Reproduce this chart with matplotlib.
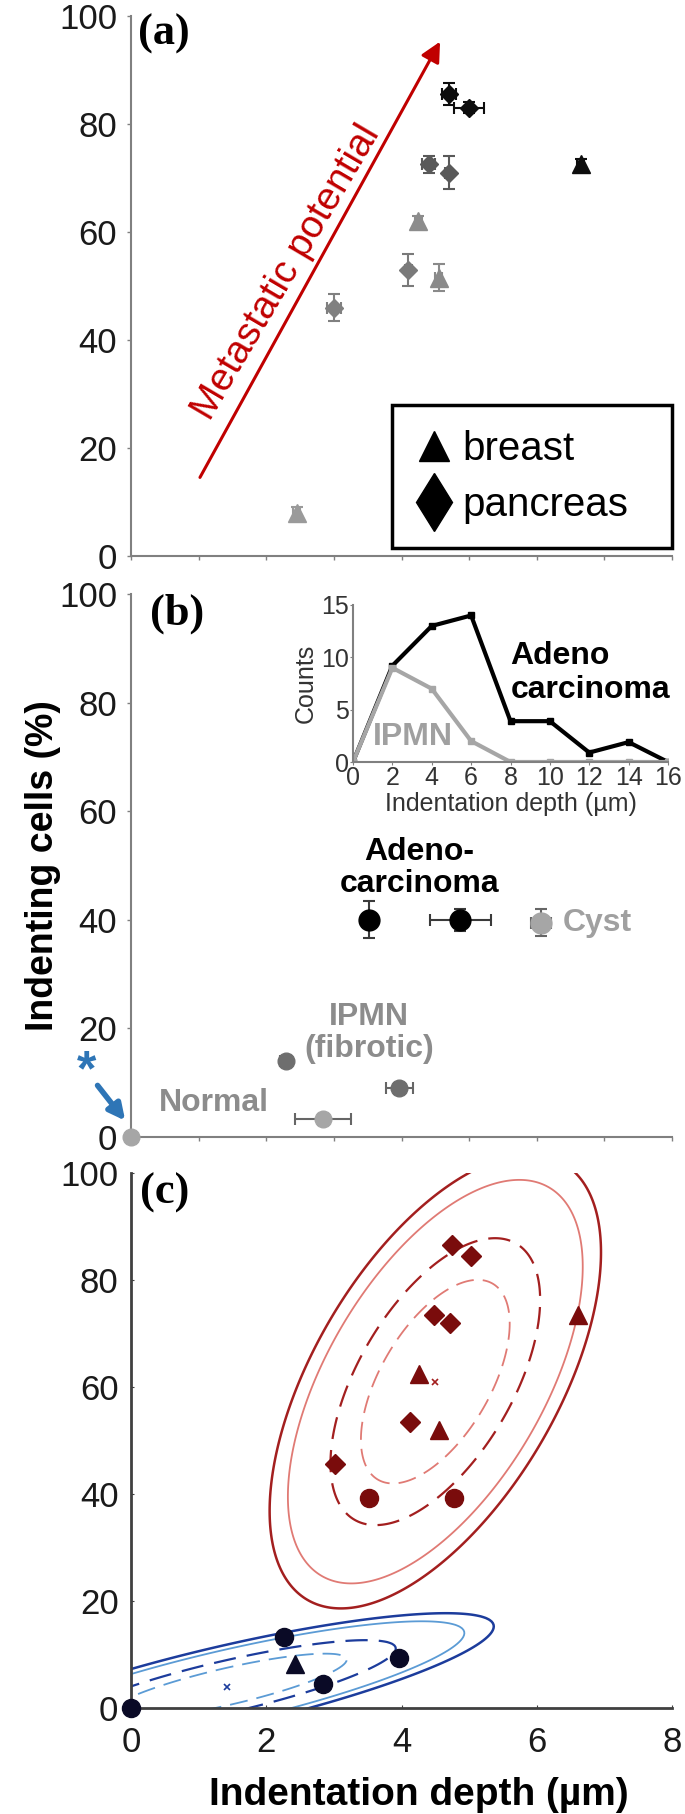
import matplotlib
matplotlib.use('Agg')
import matplotlib.pyplot as plt
import numpy as np
from matplotlib.lines import Line2D

plt.rcParams['font.family'] = ['Liberation Sans', 'DejaVu Sans']

# ---------- (a) cell lines ----------
a_x = [2.45, 3.0, 4.1, 4.25, 4.55, 4.4, 4.7, 4.7, 5.0, 6.65]
a_y = [8, 46, 53, 62, 51.5, 72.5, 71, 85.5, 83, 72.5]
a_xerr = [0.05, 0.1, 0.05, 0.05, 0.05, 0.1, 0.05, 0.1, 0.22, 0.05]
a_yerr = [1.0, 2.5, 3.0, 1.0, 2.5, 1.5, 3.0, 2.0, 1.0, 1.0]
a_marker = ['^', 'D', 'D', '^', '^', 'D', 'D', 'D', 'D', '^']
a_color = ['#9a9a9a', '#808080', '#7a7a7a', '#8c8c8c', '#8a8a8a',
           '#595959', '#595959', '#0d0d0d', '#0d0d0d', '#0d0d0d']

# ---------- (b) clinical samples ----------
b_x = [3.52, 4.87, 6.06, 2.29, 3.97, 2.84, 0.0]
b_y = [40, 40, 39.5, 14, 9, 3.3, 0]
b_xerr = [0.0, 0.45, 0.15, 0.08, 0.2, 0.41, 0.0]
b_yerr = [3.4, 2.0, 2.5, 0.8, 1.0, 1.0, 0.0]
b_color = ['#000000', '#000000', '#a6a6a6', '#6e6e6e', '#6e6e6e', '#a6a6a6', '#a6a6a6']

# inset histogram
hist_depth = [0, 2, 4, 6, 8, 10, 12, 14, 16]
hist_adeno = [0, 9.2, 13, 14, 3.9, 3.9, 0.9, 1.9, 0]
hist_ipmn = [0, 9, 7, 2, 0, 0, 0, 0, 0]

# ---------- (c) clusters ----------
c_red_x = [4.74, 5.03, 4.48, 4.71, 4.13, 3.01, 4.26, 4.55, 6.61, 3.52, 4.77]
c_red_y = [86.5, 84.4, 73.4, 71.9, 53.4, 45.7, 62.5, 52, 73.5, 39.3, 39.3]
c_red_marker = ['D'] * 6 + ['^'] * 3 + ['o'] * 2
c_blue_x = [2.26, 2.84, 3.97, 0.0, 2.42]
c_blue_y = [13.3, 4.4, 9.4, 0.0, 8.2]
c_blue_marker = ['o', 'o', 'o', 'o', '^']

# gaussian fits: mean, sd, correlation; contour radii (mahalanobis)
red_mean, red_sd, red_rho = (4.5, 61.0), (1.0, 17.3), 0.57
blue_mean, blue_sd, blue_rho = (1.42, 4.0), (1.61, 5.6), 0.82
levels = [1.1, 1.55, 2.18, 2.45]

W, H = 685, 1814
fig = plt.figure(figsize=(W / 100, H / 100), dpi=100)


def box(l, t, r, b):
    return [l / W, 1 - b / H, (r - l) / W, (b - t) / H]


ax_a = fig.add_axes(box(131, 16, 672, 556))
ax_b = fig.add_axes(box(131, 594, 672, 1137))
ax_c = fig.add_axes(box(131, 1173, 672, 1708))
ax_in = fig.add_axes(box(353, 605, 668, 762))

for ax in (ax_a, ax_b, ax_c):
    ax.set_xlim(0, 8)
    ax.set_ylim(0, 100)
    ax.spines['top'].set_visible(False)
    ax.spines['right'].set_visible(False)
    ax.set_yticks(range(0, 101, 20))

for ax in (ax_a, ax_b):
    for s in ('left', 'bottom'):
        ax.spines[s].set_color('#808080')
        ax.spines[s].set_linewidth(1.5)
    ax.set_xticks(range(9))
    ax.set_xticklabels([])
    ax.tick_params(length=3, width=1, color='#808080', labelsize=25, pad=7, labelcolor='#1a1a1a')

# ---------- (a) ----------
for x, y, xe, ye, m, c in zip(a_x, a_y, a_xerr, a_yerr, a_marker, a_color):
    ax_a.errorbar(x, y, xerr=xe, yerr=ye, fmt=m, ms=13 if m == '^' else 9,
                  color=c, ecolor=c, elinewidth=1.5, capsize=4, capthick=1.5)

ax_a.annotate('', xy=(4.59, 95.7), xytext=(1.0, 14.1),
              arrowprops=dict(arrowstyle='-|>', color='#c00000', lw=2.2, mutation_scale=30))
ax_a.text(2.3, 52.5, 'Metastatic potential', color='#c00000', fontsize=28,
          rotation=59.5, ha='center', va='center', rotation_mode='anchor')

handles = [Line2D([], [], marker='^', color='black', ls='none', ms=22),
           Line2D([], [], marker='d', color='black', ls='none', ms=30)]
leg = ax_a.legend(handles, ['breast', 'pancreas'], loc='lower left',
                  bbox_to_anchor=(0.482, 0.015, 0.518, 0.254), mode='expand',
                  borderaxespad=0, fontsize=29, handlelength=0.9, handletextpad=0.25,
                  labelspacing=0.45, borderpad=0.6, fancybox=False, framealpha=1)
leg.get_frame().set_edgecolor('black')
leg.get_frame().set_linewidth(2.5)

ax_a.text(0.013, 1.005, '(a)', transform=ax_a.transAxes, fontsize=32, fontweight='bold',
          family='Liberation Serif', va='top', ha='left')

# ---------- (b) ----------
for x, y, xe, ye, c in zip(b_x, b_y, b_xerr, b_yerr, b_color):
    big = c == '#000000' or y > 30
    ax_b.errorbar(x, y, xerr=xe if xe else None, yerr=ye if ye else None, fmt='o',
                  ms=15 if big else 12, color=c, ecolor='#3a3a3a' if c == '#000000' else '#666666',
                  elinewidth=1.5, capsize=4, capthick=1.5, clip_on=False, zorder=5)

ax_b.text(4.26, 49.5, 'Adeno-\ncarcinoma', fontsize=23, fontweight='bold', ha='center', va='center',
          linespacing=1.1)
ax_b.text(3.52, 19.2, 'IPMN\n(fibrotic)', fontsize=23, fontweight='bold', ha='center', va='center',
          color='#8c8c8c', linespacing=1.1)
ax_b.text(1.23, 6.2, 'Normal', fontsize=23, fontweight='bold', ha='center', va='center', color='#8c8c8c')
ax_b.text(6.9, 39.5, 'Cyst', fontsize=23, fontweight='bold', ha='center', va='center', color='#a0a0a0')

ax_b.text(-0.65, 12.0, '*', color='#2e75b6', fontsize=36, fontweight='bold', ha='center', va='center',
          clip_on=False)
ax_b.annotate('', xy=(-0.06, 2.6), xytext=(-0.52, 9.9), annotation_clip=False,
              arrowprops=dict(arrowstyle='-|>', color='#2e75b6', lw=4, mutation_scale=24))

ax_b.set_ylabel('Indenting cells (%)', fontsize=27, fontweight='bold', va='center')
ax_b.yaxis.set_label_coords(-0.163, 0.5)
ax_b.text(0.035, 1.0, '(b)', transform=ax_b.transAxes, fontsize=32, fontweight='bold',
          family='Liberation Serif', va='top', ha='left')

# inset
ax_in.plot(hist_depth, hist_adeno, color='black', lw=3, marker='s', ms=5)
ax_in.plot(hist_depth, hist_ipmn, color='#a6a6a6', lw=3, marker='s', ms=5)
ax_in.set_xlim(0, 16)
ax_in.set_ylim(0, 15)
ax_in.set_xticks(hist_depth)
ax_in.set_yticks([0, 5, 10, 15])
ax_in.spines['top'].set_visible(False)
ax_in.spines['right'].set_visible(False)
for s in ('left', 'bottom'):
    ax_in.spines[s].set_color('#808080')
    ax_in.spines[s].set_linewidth(1.5)
ax_in.patch.set_alpha(0)
ax_in.tick_params(length=2, color='#808080', labelsize=18, pad=1, labelcolor='#333333')
ax_in.set_xlabel('Indentation depth (\u00b5m)', fontsize=18, color='#333333', labelpad=1)
ax_in.set_ylabel('Counts', fontsize=18, color='#333333', labelpad=2)
ax_in.text(8.0, 8.5, 'Adeno\ncarcinoma', fontsize=23, fontweight='bold', ha='left', va='center',
           linespacing=1.15)
ax_in.text(3.05, 2.4, 'IPMN', fontsize=23, fontweight='bold', ha='center', va='center',
           color='#a0a0a0')

# ---------- (c) ----------
gx, gy = np.meshgrid(np.linspace(-3, 10, 500), np.linspace(-30, 130, 500))


def mahal(mean, sd, rho):
    dx = (gx - mean[0]) / sd[0]
    dy = (gy - mean[1]) / sd[1]
    return np.sqrt((dx ** 2 - 2 * rho * dx * dy + dy ** 2) / (1 - rho ** 2))


styles = [((0, (10, 5)), 1.3, 1), ((0, (10, 5)), 1.6, 0), ('solid', 1.3, 1), ('solid', 1.8, 0)]
for mean, sd, rho, cols in [(red_mean, red_sd, red_rho, ['#a31f1f', '#e07a74']),
                            (blue_mean, blue_sd, blue_rho, ['#1c3c9c', '#5b9bd5'])]:
    d = mahal(mean, sd, rho)
    for lev, (ls, lw, ci) in zip(levels, styles):
        cs = ax_c.contour(gx, gy, d, levels=[lev], colors=[cols[ci]], linewidths=lw)
        cs.set_linestyle(ls)

ax_c.plot(red_mean[0], red_mean[1], 'x', color='#a31f1f', ms=5, mew=1.2)
ax_c.plot(blue_mean[0], blue_mean[1], 'x', color='#1c3c9c', ms=5, mew=1.2)

for x, y, m in zip(c_red_x, c_red_y, c_red_marker):
    ax_c.plot(x, y, m, color='#7a0c0c', ms={'D': 10, '^': 13, 'o': 13}[m], zorder=5)
for x, y, m in zip(c_blue_x, c_blue_y, c_blue_marker):
    ax_c.plot(x, y, m, color='#0a0a26', ms={'^': 13, 'o': 13}[m], zorder=5, clip_on=False)

for s in ('left', 'bottom'):
    ax_c.spines[s].set_color('#404040')
    ax_c.spines[s].set_linewidth(2)
ax_c.set_xticks([0, 2, 4, 6, 8])
ax_c.tick_params(direction='in', length=2, color='#404040', labelsize=25, labelcolor='#1a1a1a')
ax_c.tick_params(axis='x', pad=13)
ax_c.tick_params(axis='y', pad=9)
ax_c.set_xlabel('Indentation depth (\u00b5m)', fontsize=28, fontweight='bold', va='center')
ax_c.xaxis.set_label_coords(0.532, -0.163)
ax_c.text(0.017, 1.0, '(c)', transform=ax_c.transAxes, fontsize=32, fontweight='bold',
          family='Liberation Serif', va='top', ha='left')

fig.savefig('out.png', dpi=100)
